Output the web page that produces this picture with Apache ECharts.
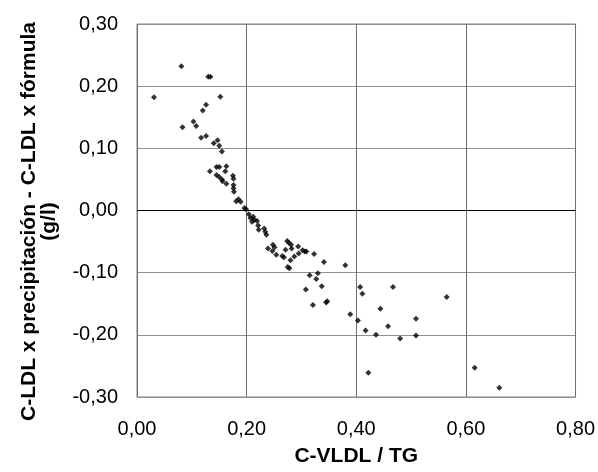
<!DOCTYPE html>
<html><head><meta charset="utf-8">
<script src="https://cdn.jsdelivr.net/npm/echarts@6/dist/echarts.min.js"></script>
<style>html,body{margin:0;padding:0;background:#fff}#c{width:598px;height:472px}</style>
</head><body><div id="c"></div>
<script>
// Axis setup
const xMin = 0, xMax = 0.8, xStep = 0.2;
const yMin = -0.3, yMax = 0.3, yStep = 0.1;
const xTitle = 'C-VLDL / TG';
const yTitle = 'C-LDL x precipitación - C-LDL x fórmula\n(g/l)';

// Data: C-VLDL/TG (x) and difference in g/l (y)
const xValues = [
  0.081, 0.130, 0.134, 0.031, 0.152, 0.126, 0.120, 0.103, 0.108, 0.083,
  0.126, 0.117, 0.147, 0.140, 0.150, 0.155, 0.163, 0.145, 0.150, 0.161,
  0.133, 0.145, 0.150, 0.155, 0.156, 0.163, 0.175, 0.176, 0.176, 0.176,
  0.177, 0.181, 0.185, 0.189, 0.196, 0.199, 0.204, 0.207, 0.212, 0.214,
  0.219, 0.210, 0.221, 0.222, 0.232, 0.234, 0.236, 0.239, 0.248, 0.251,
  0.247, 0.254, 0.265, 0.268, 0.274, 0.277, 0.281, 0.271, 0.282, 0.287,
  0.280, 0.275, 0.278, 0.294, 0.295, 0.302, 0.306, 0.309, 0.323, 0.341,
  0.380, 0.330, 0.315, 0.327, 0.308, 0.337, 0.321, 0.345, 0.347, 0.389,
  0.403, 0.407, 0.411, 0.467, 0.565, 0.444, 0.417, 0.458, 0.436, 0.480,
  0.509, 0.509, 0.422, 0.616, 0.661
];
const yValues = [
  0.232, 0.215, 0.215, 0.182, 0.183, 0.170, 0.161, 0.143, 0.136, 0.134,
  0.120, 0.117, 0.113, 0.108, 0.104, 0.095, 0.071, 0.070, 0.070, 0.063,
  0.063, 0.057, 0.054, 0.050, 0.047, 0.043, 0.056, 0.051, 0.041, 0.036,
  0.030, 0.015, 0.018, 0.014, 0.004, 0.002, -0.006, -0.012, -0.010, -0.015,
  -0.017, -0.018, -0.024, -0.031, -0.029, -0.034, -0.039, -0.061, -0.055, -0.059,
  -0.065, -0.071, -0.073, -0.075, -0.049, -0.052, -0.055, -0.063, -0.061, -0.074,
  -0.080, -0.091, -0.093, -0.058, -0.069, -0.064, -0.066, -0.066, -0.070, -0.083,
  -0.088, -0.101, -0.104, -0.110, -0.127, -0.122, -0.152, -0.148, -0.146, -0.167,
  -0.177, -0.123, -0.134, -0.123, -0.139, -0.158, -0.193, -0.186, -0.200, -0.206,
  -0.174, -0.201, -0.261, -0.253, -0.285
];

const points = xValues.map((x, i) => [x, yValues[i]]);
const fmt = v => v.toFixed(2).replace('.', ',');
const font = 'Liberation Sans, Arial, sans-serif';

const chart = echarts.init(document.getElementById('c'), null, {renderer: 'canvas'});
chart.setOption({
  animation: false,
  backgroundColor: '#fff',
  grid: {left: 137, top: 19, right: 21, bottom: 69, show: true, borderColor: '#808080', borderWidth: 1},
  xAxis: {
    type: 'value', min: xMin, max: xMax, interval: xStep,
    name: xTitle, nameLocation: 'middle', nameGap: 49,
    nameTextStyle: {fontFamily: font, fontSize: 21, fontWeight: 'bold', color: '#000'},
    axisLine: {show: false}, axisTick: {show: false},
    axisLabel: {formatter: fmt, fontFamily: font, fontSize: 20, color: '#000', margin: 22},
    splitLine: {show: true, lineStyle: {color: '#6e6e6e', width: 1}}
  },
  yAxis: {
    type: 'value', min: yMin, max: yMax, interval: yStep,
    name: yTitle, nameLocation: 'middle', nameGap: 78,
    nameTextStyle: {fontFamily: font, fontSize: 21, fontWeight: 'bold', color: '#000', lineHeight: 20, padding: [0, 22, 0, 0]},
    axisLine: {show: false}, axisTick: {show: false},
    axisLabel: {formatter: fmt, fontFamily: font, fontSize: 20, color: '#000', margin: 19},
    splitLine: {show: true, lineStyle: {color: '#909090', width: 1}}
  },
  series: [{
    type: 'scatter',
    data: points,
    symbol: 'diamond',
    symbolSize: 6,
    itemStyle: {color: '#000'},
    markLine: {
      silent: true, symbol: 'none', label: {show: false},
      lineStyle: {color: '#000', width: 1, type: 'solid'},
      data: [{yAxis: 0}]
    }
  }]
});
</script>
</body></html>
